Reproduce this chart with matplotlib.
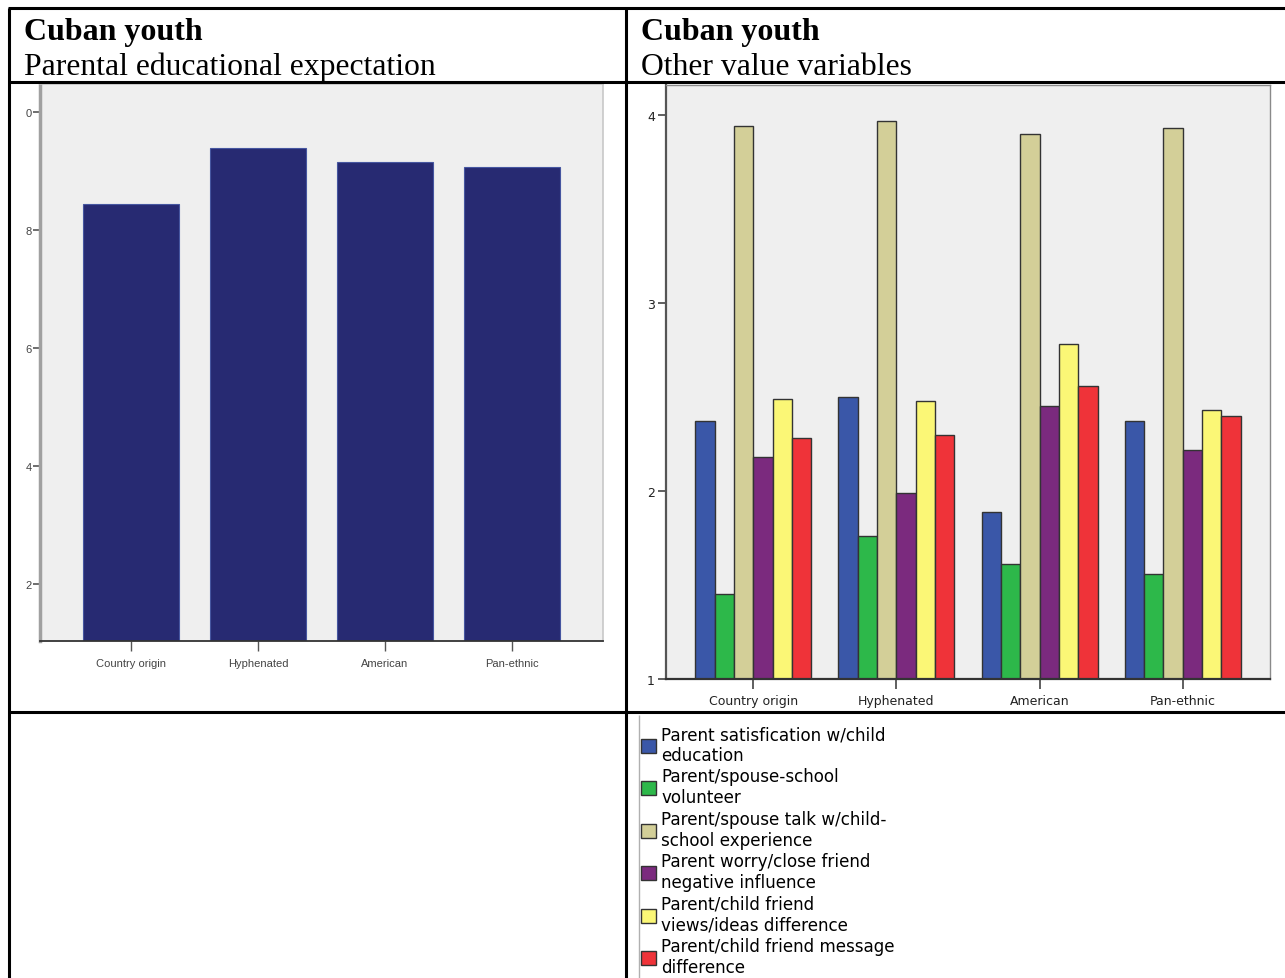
import matplotlib
matplotlib.use("Agg")
import matplotlib.pyplot as plt
import numpy as np
from matplotlib.lines import Line2D
from matplotlib.patches import Patch

# ---- data ----
categories = ["Country origin", "Hyphenated", "American", "Pan-ethnic"]

# Parental educational expectation (mean)
edu_expectation = [8.44, 9.39, 9.14, 9.07]
edu_ticks = [10, 8, 6, 4, 2]
edu_ticklabels = ["0", "8", "6", "4", "2"]

# Other value variables (means)
series_names = [
    "Parent satisfication w/child\neducation",
    "Parent/spouse-school\nvolunteer",
    "Parent/spouse talk w/child-\nschool experience",
    "Parent worry/close friend\nnegative influence",
    "Parent/child friend\nviews/ideas difference",
    "Parent/child friend message\ndifference",
]
series_values = [
    [2.37, 2.50, 1.89, 2.37],
    [1.45, 1.76, 1.61, 1.56],
    [3.94, 3.97, 3.90, 3.93],
    [2.18, 1.99, 2.45, 2.22],
    [2.49, 2.48, 2.78, 2.43],
    [2.28, 2.30, 2.56, 2.40],
]
series_colors = ["#3a57a8", "#2db84a", "#d3cf98", "#7b2a7e", "#fbf776", "#ef3339"]
value_ticks = [1, 2, 3, 4]

W, H = 1285, 979
fig = plt.figure(figsize=(W / 100, H / 100), dpi=100)
fig.patch.set_facecolor("white")


def fx(x):
    return x / W


def fy(y):
    return 1 - y / H


def rect(x0, y0, x1, y1):
    return [fx(x0), fy(y1), (x1 - x0) / W, (y1 - y0) / H]


# ---- table grid ----
def hline(y, x0, x1, lw=2.2, color="black"):
    fig.add_artist(Line2D([fx(x0), fx(x1)], [fy(y), fy(y)], color=color, lw=lw,
                          solid_capstyle="butt"))


def vline(x, y0, y1, lw=2.2, color="black"):
    fig.add_artist(Line2D([fx(x), fx(x)], [fy(y0), fy(y1)], color=color, lw=lw,
                          solid_capstyle="butt"))


hline(9, 8, W)
hline(83, 8, W)
hline(713, 8, W)
vline(9, 9, H)
vline(626, 9, H)
vline(639, 716, H, lw=1.0, color="#b0b0b0")

# ---- headers ----
serif = "Liberation Serif"
for x0, sub in [(24, "Parental educational expectation"), (641, "Other value variables")]:
    fig.text(fx(x0), fy(40), "Cuban youth", family=serif, fontweight="bold",
             fontsize=23, va="baseline", ha="left")
    fig.text(fx(x0), fy(75), sub, family=serif, fontsize=22.8,
             va="baseline", ha="left")

# ---- left chart ----
ax1 = fig.add_axes(rect(40, 85, 603, 642))
ax1.set_facecolor("#efefef")
x = np.arange(len(categories))
ax1.bar(x, edu_expectation, width=0.76, color="#272a72", edgecolor="#4656a0",
        linewidth=0.8, bottom=0, zorder=2)
ax1.set_xlim(-0.717, 3.717)
ax1.set_ylim(1.03, 10.47)
ax1.set_yticks(edu_ticks)
ax1.set_yticklabels(edu_ticklabels)
ax1.set_xticks(x)
ax1.set_xticklabels(categories)
for lab in ax1.get_xticklabels() + ax1.get_yticklabels():
    lab.set_family("Liberation Sans")
    lab.set_fontsize(8)
    lab.set_color("#444444")
ax1.tick_params(axis="y", length=5, width=1.2, color="#555555", pad=1)
ax1.tick_params(axis="x", length=7, width=1.0, color="#555555", pad=5)
ax1.spines["left"].set_color("#a0a0a0")
ax1.spines["left"].set_linewidth(2.5)
ax1.spines["bottom"].set_color("#333333")
ax1.spines["bottom"].set_linewidth(1.3)
for s in ("top", "right"):
    ax1.spines[s].set_color("#c8c8c8")
    ax1.spines[s].set_linewidth(1.2)

# ---- right chart ----
ax2 = fig.add_axes(rect(666, 86, 1270, 680))
ax2.set_facecolor("#efefef")
n = len(series_values)
bw = 0.135
for i, (vals, col) in enumerate(zip(series_values, series_colors)):
    offs = (i - (n - 1) / 2) * bw
    ax2.bar(x + offs, np.array(vals) - 1, width=bw, bottom=1, color=col,
            edgecolor="#333333", linewidth=1.0, zorder=2)
ax2.set_xlim(-0.61, 3.61)
ax2.set_ylim(1, 4.16)
ax2.set_yticks(value_ticks)
ax2.set_xticks(x)
ax2.set_xticklabels(categories)
for lab in ax2.get_xticklabels() + ax2.get_yticklabels():
    lab.set_family("DejaVu Sans")
    lab.set_fontsize(9)
    lab.set_color("#222222")
ax2.tick_params(axis="y", length=6, width=1.2, color="#444444", pad=2)
ax2.tick_params(axis="x", length=7, width=1.2, color="#444444", pad=4)
ax2.spines["left"].set_color("#555555")
ax2.spines["left"].set_linewidth(1.6)
ax2.spines["bottom"].set_color("#333333")
ax2.spines["bottom"].set_linewidth(1.6)
for s in ("top", "right"):
    ax2.spines[s].set_color("#8a8a8a")
    ax2.spines[s].set_linewidth(1.0)

# ---- legend ----
handles = [Patch(facecolor=c, edgecolor="#333333", linewidth=1.0) for c in series_colors]
fig.legend(handles, series_names, loc="upper left",
           bbox_to_anchor=(fx(641), fy(726)), frameon=False,
           prop={"family": "DejaVu Sans", "size": 12.1},
           handlelength=0.9, handleheight=0.9, handletextpad=0.3,
           labelspacing=0.22, borderpad=0, borderaxespad=0)

fig.savefig("out.png", dpi=100, facecolor="white")
